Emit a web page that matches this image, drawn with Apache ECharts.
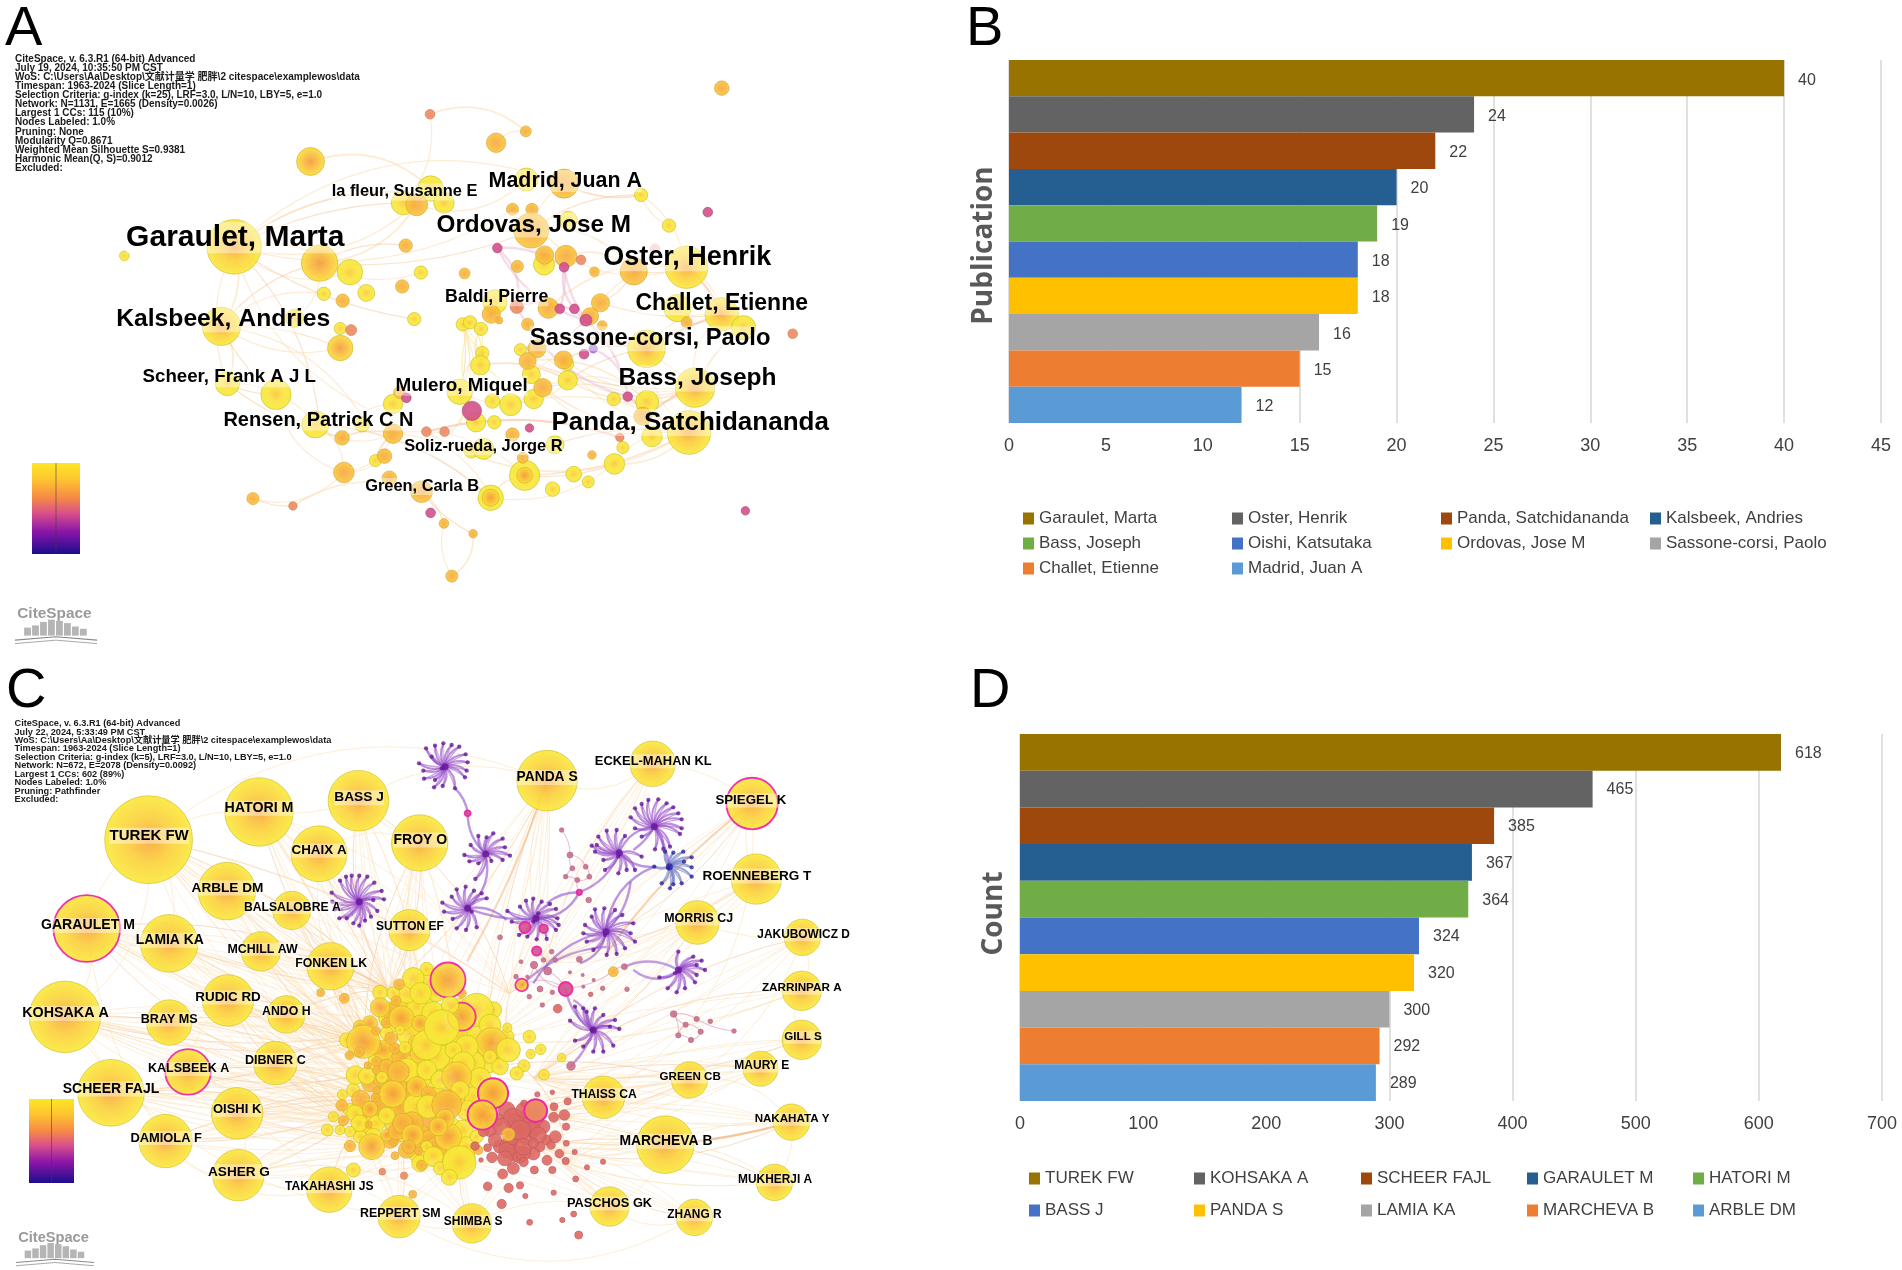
<!DOCTYPE html>
<html><head><meta charset="utf-8">
<style>html,body{margin:0;padding:0;background:#fff}#c{width:1902px;height:1270px}</style>
<script src="https://cdn.jsdelivr.net/npm/echarts@6/dist/echarts.min.js"></script>
</head><body><div id="c"></div>
<script>
// ---------- Panel B / D values ----------
const barColors=['#997300','#636363','#9E480E','#255E91','#70AD47','#4472C4','#FFC000','#A5A5A5','#ED7D31','#5B9BD5'];
const bNames=['Garaulet, Marta','Oster, Henrik','Panda, Satchidananda','Kalsbeek, Andries','Bass, Joseph','Oishi, Katsutaka','Ordovas, Jose M','Sassone-corsi, Paolo','Challet, Etienne','Madrid, Juan A'];
const bValues=[40,24,22,20,19,18,18,16,15,12];
const dNames=['TUREK FW','KOHSAKA A','SCHEER FAJL','GARAULET M','HATORI M','BASS J','PANDA S','LAMIA KA','MARCHEVA B','ARBLE DM'];
const dValues=[618,465,385,367,364,324,320,300,292,289];

// ---------- Panel text ----------
const infoA=['CiteSpace, v. 6.3.R1 (64-bit) Advanced','July 19, 2024, 10:35:50 PM CST','WoS: C:\\Users\\Aa\\Desktop\\文献计量学 肥胖\\2 citespace\\examplewos\\data','Timespan: 1963-2024 (Slice Length=1)','Selection Criteria: g-index (k=25), LRF=3.0, L/N=10, LBY=5, e=1.0','Network: N=1131, E=1665 (Density=0.0026)','Largest 1 CCs: 115 (10%)','Nodes Labeled: 1.0%','Pruning: None','Modularity Q=0.8671','Weighted Mean Silhouette S=0.9381','Harmonic Mean(Q, S)=0.9012','Excluded:'];
const infoC=['CiteSpace, v. 6.3.R1 (64-bit) Advanced','July 22, 2024, 5:33:49 PM CST','WoS: C:\\Users\\Aa\\Desktop\\文献计量学 肥胖\\2 citespace\\examplewos\\data','Timespan: 1963-2024 (Slice Length=1)','Selection Criteria: g-index (k=5), LRF=3.0, L/N=10, LBY=5, e=1.0','Network: N=672, E=2078 (Density=0.0092)','Largest 1 CCs: 602 (89%)','Nodes Labeled: 1.0%','Pruning: Pathfinder','Excluded:'];

// ---------- Panel A network, read in a 1568x1568 view of the panel: [x,y,diameter] ----------
const aLabels=[['Garaulet, Marta',388,580,30],['Kalsbeek, Andries',368,780,24.7],['Oster, Henrik',1133,628,27],['Ordovas, Jose M',880,549,24.3],['Panda, Satchidananda',1138,1033,26],['Bass, Joseph',1150,925,24.5],['Sassone-corsi, Paolo',1072,828,23.8],['Challet, Etienne',1190,741,23],['Madrid, Juan A',932,441,21.4],['Mulero, Miquel',761,943,18.9],['la fleur, Susanne E',667,468,16.4],['Baldi, Pierre',819,725,17.7],['Scheer, Frank A J L',378,922,18.7],['Rensen, Patrick C N',525,1027,20],['Soliz-rueda, Jorge R',797,1092,16.4],['Green, Carla B',696,1190,16.4]];
const aHub=[[386,605,90],[365,800,63],[1136,1060,72],[1146,950,65],[1066,855,62],[1190,770,55],[1132,655,70]];
const aYellow=[[577,667,42],[205,627,16],[694,668,22],[604,718,28],[534,720,22],[683,782,22],[486,780,30],[561,805,20],[375,940,40],[455,967,50],[597,1040,25],[520,1040,45],[648,990,32],[619,1129,20],[809,1220,42],[865,1165,50],[911,1199,24],[946,1162,26],[970,1181,20],[1013,1137,34],[1027,1097,20],[1075,1070,34],[1067,985,38],[1012,978,22],[1226,803,40],[1117,755,45],[1103,553,22],[1057,478,22],[868,440,38],[937,540,30],[710,462,42],[665,497,40],[732,497,34],[897,648,35],[816,740,40],[763,795,22],[775,790,22],[793,806,22],[795,865,22],[792,895,32],[858,857,20],[935,892,22],[876,918,30],[936,932,32],[880,978,32],[842,992,36],[812,983,24],[758,960,42],[785,1035,32],[815,1035,22],[777,1105,24],[797,1100,35],[915,1090,30]];
const aWarm=[[527,645,60],[561,853,42],[512,396,46],[809,1220,28],[865,1165,26]];
const aOrange=[[818,350,32],[867,322,18],[1190,216,24],[669,602,22],[663,702,22],[565,737,22],[766,670,18],[659,962,20],[648,1063,32],[564,1073,24],[634,1118,24],[567,1158,34],[642,1172,24],[695,1205,36],[417,1222,20],[732,1283,16],[780,1308,14],[745,1412,20],[862,1122,18],[845,1065,22],[976,1115,14],[1132,790,18],[1045,665,45],[930,450,48],[845,513,20],[877,513,20],[876,565,58],[687,502,36],[933,628,36],[898,625,30],[853,653,20],[980,666,16],[990,742,30],[904,755,34],[810,770,30],[823,785,12],[973,775,28],[993,798,16],[870,795,20],[885,855,30],[870,885,28],[929,882,30],[895,950,30],[1060,1020,30]];
const aCoral=[[709,280,16],[579,809,18],[703,1058,16],[733,1058,16],[483,1240,14],[1022,1072,14],[1307,818,16],[958,637,16],[852,752,22]];
const aPink=[[670,975,16],[710,1257,16],[873,1049,14],[1035,972,16],[1229,1252,14],[1167,520,16],[930,655,16],[820,608,16],[923,757,16],[947,757,16],[966,785,20],[963,868,16],[778,1007,32]];
const aPurple=[[978,855,14]];
const aPale=[[1080,610,16]];
const aEdges=[[386,605,660,470],[386,605,850,510],[386,605,930,450],[527,645,876,565],[386,605,365,800],[386,605,577,667],[365,800,527,645],[365,800,561,853],[365,800,375,940],[375,940,455,967],[375,940,520,1040],[520,1040,648,1063],[564,1073,648,1063],[567,1158,634,1118],[567,1158,417,1222],[417,1222,483,1240],[483,1240,695,1205],[567,1158,520,1040],[695,1205,732,1283],[732,1283,745,1412],[780,1308,745,1412],[695,1205,780,1308],[709,280,665,497],[867,322,818,350],[1057,478,930,450],[930,450,876,565],[868,440,687,502],[665,497,386,605],[687,502,527,645],[710,462,876,565],[876,565,933,628],[933,628,1132,655],[933,628,1045,665],[1045,665,1132,655],[1132,655,1190,770],[1132,655,990,742],[990,742,885,855],[1066,855,1136,1060],[1066,855,1190,770],[1066,855,936,932],[1146,950,936,932],[1146,950,1136,1060],[1136,1060,895,950],[1136,1060,842,992],[1136,1060,703,1058],[1136,1060,912,1090],[1146,950,1012,978],[1146,950,885,855],[929,882,1066,855],[929,882,1146,950],[936,932,1067,985],[870,885,1146,950],[870,885,1067,985],[876,918,1136,1060],[895,950,1067,985],[792,895,763,795],[792,895,793,806],[758,960,763,795],[763,795,758,960],[792,895,880,978],[792,895,936,932],[758,960,880,978],[1013,1137,1136,1060],[865,1165,1013,1137],[809,1220,865,1165],[648,990,564,1073],[527,645,669,602],[527,645,694,668],[386,605,604,718],[386,605,683,782],[365,800,534,720],[885,855,1146,950],[858,857,1066,855],[929,882,1136,1060],[876,918,1066,855],[990,742,1190,770],[904,755,1132,655],[1226,803,1066,855],[1045,665,990,742],[1057,478,1103,553],[709,280,867,322],[375,940,564,1073],[648,1063,865,1165],[567,1158,648,1063],[619,1129,648,1063],[386,605,375,940],[527,645,486,780],[561,853,365,800],[1136,1060,1013,1137],[386,605,710,462],[386,605,527,1040],[386,605,604,1000],[512,396,710,462],[365,800,455,967],[365,800,604,1040],[455,967,567,1158],[520,1040,809,1220],[809,1220,1013,1137],[648,1063,809,1220],[865,1165,1136,1060],[1136,1060,1226,803],[1190,770,1146,950],[876,565,1057,478],[1132,655,1057,478],[876,565,1045,665],[765,1005,792,895],[758,960,795,865],[745,1060,763,795]];
const aYellowEdges=[[763,795,758,1040],[775,790,785,1035],[793,806,758,960],[795,865,812,983],[792,895,842,992],[758,960,785,1035],[842,992,880,978],[880,978,936,932],[936,932,876,918],[763,795,795,865],[775,790,792,895],[1190,770,1226,803],[1136,1060,1075,1070]];
const aPinkEdges=[[820,608,930,655],[820,608,966,785],[820,608,852,752],[923,757,930,655],[947,757,930,655],[966,785,852,752],[966,785,1035,972],[852,752,1035,972],[978,855,1035,972],[930,655,966,785]];
const aOrangeEdges=[[1136,1060,1035,972],[1146,950,1075,1010],[703,1058,1022,1072],[1190,770,1066,855],[1132,655,1190,770]];

// ---------- Panel C network, read in a 1568x1568 view of the panel ----------
const cHubs=[['TUREK FW',245,497,145,246,485,15],['KOHSAKA A',107,938,118,108,927,14.3],['GARAULET M',143,718,110,145,708,14.1],['SCHEER FAJL',183,1127,110,183,1115,14],['HATORI M',427,428,113,427,416,14.2],['BASS J',591,400,100,592,390,13.7],['PANDA S',902,350,100,902,340,13.8],['ECKEL-MAHAN KL',1076,308,75,1077,299,12.9],['SPIEGEL K',1240,407,85,1238,397,13.3],['CHAIX A',526,532,92,526,522,13.4],['FROY O',692,505,93,693,495,14],['ARBLE DM',374,625,95,375,615,13.6],['ROENNEBERG T',1247,595,83,1248,585,13.5],['BALSALOBRE A',481,673,63,482,663,12.2],['SUTTON EF',675,722,68,676,712,12],['LAMIA KA',279,755,95,280,745,13.9],['MCHILL AW',430,775,65,433,767,12.4],['FONKEN LK',545,812,78,546,802,12.3],['MORRIS CJ',1150,703,72,1152,692,12.4],['JAKUBOWICZ D',1323,740,60,1325,731,11.9],['RUDIC RD',376,897,85,376,887,13.4],['ANDO H',472,932,62,472,922,12.3],['BRAY MS',279,952,75,279,942,12.6],['ZARRINPAR A',1322,873,65,1322,864,11.7],['GILL S',1322,995,65,1324,986,11.6],['KALSBEEK A',310,1075,75,311,1065,12.5],['DIBNER C',454,1053,72,454,1043,12.6],['MAURY E',1254,1067,58,1256,1058,12],['GREEN CB',1137,1095,60,1138,1085,11.6],['THAISS CA',995,1138,70,996,1128,12.1],['OISHI K',391,1178,85,391,1167,13],['DAMIOLA F',273,1247,88,274,1237,12.9],['NAKAHATA Y',1305,1200,60,1306,1190,11.6],['MARCHEVA B',1097,1256,95,1098,1245,13.9],['ASHER G',393,1332,85,394,1321,13.6],['MUKHERJI A',1277,1350,60,1278,1341,11.9],['TAKAHASHI JS',543,1368,75,543,1358,12.1],['REPPERT SM',658,1435,70,660,1424,12.4],['SHIMBA S',778,1452,65,780,1444,12],['PASCHOS GK',1005,1410,65,1005,1400,12.8],['ZHANG R',1145,1437,60,1145,1428,11.9]];
const cHubRingNames=['GARAULET M','SPIEGEL K','KALSBEEK A'];
const cAnchors=[[640,870],[700,950],[600,1000],[660,1060],[750,1080],[620,1140],[700,1160],[800,1000],[590,1200],[660,1250],[760,1300],[850,1180],[880,1260],[930,1300],[880,1090],[840,880],[900,800]];
const cHubLinks=[[0,1,2,3,5,8,15],[2,3,5,6,8,9,1],[0,2,3,5,8,1],[3,5,6,8,9,10,2],[0,1,2,3,15],[0,1,3,15],[0,1,4,7,15,16],[16,15,7],[16,7,14],[0,1,2],[0,1,4,2],[0,1,2,3,5],[16,14,7],[0,2,3],[0,1,3],[0,2,3,5,8],[0,2,5],[2,3,5,1],[14,7,16],[14,11],[2,3,5,8,6],[2,3,5,0],[2,5,8],[14,7],[14,11],[3,5,8,6],[2,3,5,8],[14,11,13],[11,12,14,4],[11,14,4,6],[5,6,8,9,3],[5,8,9,6],[12,11,14],[11,12,13,6],[8,9,10,5],[12,13],[8,9,10],[9,10,8],[10,9,12],[12,13,10],[13,12]];
const cHubPairs=[[0,4],[0,2],[0,1],[0,11],[0,15],[1,2],[1,3],[2,15],[3,31],[4,5],[5,6],[6,7],[7,8],[8,12],[12,18],[18,19],[19,23],[23,24],[24,27],[27,28],[28,29],[32,33],[33,39],[39,40],[38,39],[37,38],[36,37],[34,36],[30,34],[31,34],[20,22],[20,25],[25,30],[26,30],[15,16],[16,17],[17,21],[11,13],[9,10],[10,14],[4,9],[32,28],[19,28],[1,37],[0,6],[2,31],[34,38],[37,40],[33,35],[35,32],[8,29],[5,10],[3,36],[31,36]];

// central cluster, read in a crop at (320,950) 3x
const cClusterBase=[[300,200,120,'y'],[420,300,130,'y'],[200,330,110,'y'],[300,420,120,'y'],[250,520,110,'w'],[380,560,120,'y'],[150,500,90,'y'],[450,420,100,'y'],[330,100,90,'y'],[220,200,90,'y'],[320,330,110,'y'],[500,330,80,'y'],[200,450,90,'y'],[300,600,80,'y'],[420,620,90,'y']];
const cClusterFill=[[250,170,70,'y'],[220,190,60,'o'],[290,170,60,'y'],[340,190,70,'y'],[270,250,80,'y'],[340,260,90,'y'],[420,260,80,'y'],[480,260,80,'y'],[250,320,70,'o'],[190,300,60,'w'],[160,290,50,'o'],[380,330,70,'y'],[350,320,80,'y'],[460,340,70,'y'],[540,350,50,'y'],[280,350,70,'y'],[300,380,70,'y'],[260,420,70,'o'],[240,470,60,'o'],[180,470,60,'o'],[290,470,80,'y'],[330,520,80,'o'],[300,560,70,'o'],[170,520,50,'y'],[130,480,50,'o'],[90,480,40,'y'],[210,570,50,'o'],[260,600,50,'o'],[330,570,60,'o'],[430,540,60,'y'],[440,590,60,'y'],[380,610,70,'y'],[350,590,60,'o'],[460,440,60,'y'],[440,480,60,'y'],[100,420,40,'y'],[130,540,50,'y'],[160,560,50,'y'],[120,560,40,'y'],[200,400,50,'o'],[150,400,50,'o'],[180,390,40,'o'],[230,410,60,'o'],[260,360,70,'y'],[420,170,50,'y'],[350,130,50,'y'],[260,130,60,'y'],[220,130,40,'y'],[150,220,46,'w'],[120,230,40,'w'],[80,270,44,'y'],[200,250,40,'y'],[300,310,60,'w'],[520,180,50,'y'],[560,260,44,'y'],[400,440,70,'w'],[350,440,60,'y'],[300,640,50,'y'],[400,660,50,'y'],[470,560,40,'y'],[60,540,30,'y'],[40,500,30,'y']];
const cCluster=[[2,128,24,'o'],[73,145,30,'o'],[320,57,40,'y'],[280,85,65,'y'],[237,103,32,'o'],[302,130,65,'y'],[180,128,44,'y'],[180,172,58,'w'],[228,152,30,'o'],[200,218,32,'o'],[245,205,75,'w'],[240,240,28,'y'],[300,220,50,'w'],[425,130,28,'o'],[470,180,100,'y'],[510,225,65,'y'],[562,233,28,'y'],[515,280,95,'w'],[565,300,72,'y'],[628,260,38,'y'],[662,298,32,'y'],[632,312,28,'y'],[725,323,26,'y'],[612,347,36,'y'],[590,370,40,'y'],[672,374,32,'y'],[130,275,100,'w'],[168,243,26,'o'],[118,305,30,'o'],[88,316,26,'o'],[214,265,38,'o'],[225,295,32,'o'],[290,280,50,'w'],[320,285,90,'y'],[440,290,70,'y'],[510,320,40,'y'],[400,300,50,'y'],[255,293,36,'y'],[106,375,56,'y'],[140,378,50,'y'],[170,335,30,'o'],[143,346,22,'o'],[170,360,26,'o'],[200,350,45,'o'],[235,365,65,'o'],[186,382,35,'y'],[320,360,60,'y'],[430,340,70,'y'],[360,390,55,'y'],[480,385,65,'y'],[410,380,90,'w'],[290,410,60,'w'],[420,420,55,'y'],[218,432,80,'w'],[326,432,45,'o'],[170,422,22,'o'],[166,443,26,'o'],[122,448,55,'o'],[67,434,30,'y'],[65,466,35,'o'],[105,490,50,'y'],[150,477,46,'w'],[200,497,50,'y'],[70,512,30,'o'],[118,520,50,'y'],[22,540,36,'y'],[90,545,32,'y'],[90,588,34,'o'],[146,524,22,'o'],[200,555,36,'w'],[155,590,78,'w'],[222,577,24,'o'],[230,545,50,'o'],[325,470,70,'y'],[380,465,90,'o'],[275,520,70,'o'],[248,520,60,'o'],[385,560,80,'w'],[278,555,65,'w'],[375,505,55,'w'],[355,530,55,'w'],[320,590,35,'y'],[225,617,24,'o'],[267,590,40,'o'],[295,603,24,'o'],[305,646,30,'o'],[340,620,60,'y'],[360,655,40,'y'],[418,637,100,'y'],[388,682,48,'y'],[475,600,28,'o'],[187,665,20,'r'],[252,677,22,'r'],[278,733,24,'o'],[100,660,42,'y']];
const cClusterFront=[[390,165,52,'y'],[365,232,105,'y']];
const cRinged8=[[384,90,105,'w'],[425,200,84,'w'],[519,430,90,'w'],[487,495,88,'w'],[647,482,68,'r'],[605,105,38,'w'],[737,117,42,'m'],[650,3,28,'m']];
const cRedFill=[[560,480,50],[590,520,60],[630,530,60],[570,580,50],[620,560,50],[530,510,40],[510,540,40],[585,610,50],[640,610,40],[540,590,40],[600,620,40],[660,590,30],[670,530,40],[680,570,30],[510,510,30],[620,500,40],[560,600,46],[610,610,44],[580,560,50],[640,540,44]];
const cRed=[[580,505,60],[610,480,45],[545,530,50],[600,540,60],[655,555,48],[610,590,50],[525,570,40],[555,625,45],[655,510,30],[640,580,30],[490,545,30],[465,588,26],[503,593,24],[516,622,32],[611,636,28],[580,655,36],[548,672,30],[643,660,24],[681,631,30],[697,660,22],[718,611,26],[737,633,22],[693,585,26],[706,560,36],[738,530,22],[733,495,32],[701,502,30],[702,470,24],[743,454,22],[652,433,16],[697,427,14],[739,580,18],[764,606,16],[801,652,16],[849,635,16],[767,687,18],[701,728,16],[616,738,16],[545,762,28],[600,706,22],[566,714,28],[503,709,26],[629,817,18],[727,810,16],[761,792,18],[776,855,24],[483,630,14],[612,460,20],[713,176,26],[812,133,14]];
const cRedWarm=[[565,553,40]];
const cRose8=[[695,5,14],[603,35,12],[642,45,22],[670,30,14],[706,30,14],[683,63,24],[778,28,18],[913,50,18],[588,80,14],[622,80,10],[660,117,18],[697,127,14],[628,140,14],[667,165,14],[790,110,10],[750,67,10],[788,75,10],[821,90,10],[848,115,14],[921,118,14],[753,348,26],[1061,192,20],[1130,207,16],[1097,224,16],[1171,214,14],[1142,245,16],[1075,256,16],[1113,270,16],[1242,243,14]];
const cOrangeRing8=[[880,65,30]];
const cRose7=[[725,300,14],[750,375,18],[757,415,15],[797,410,15],[737,440,14],[772,450,15],[808,440,15],[806,510,17],[540,622,15]];
const cRinged7=[[615,592,34],[671,596,26],[443,250,18],[778,487,16]];
// pale links among the small rose nodes
const cRoseLinks8=[[1061,192,1130,207],[1061,192,1097,224],[1097,224,1142,245],[1130,207,1242,243],[1075,256,1097,224],[1113,270,1142,245],[1061,192,1075,256],[1113,270,1075,256],[605,105,737,117],[737,117,880,65],[880,65,913,50],[642,45,737,117],[683,63,737,117],[605,105,642,45],[650,3,683,63]];
const cRoseLinks7=[[725,300,750,375],[750,375,757,415],[750,375,797,410],[757,415,737,440],[797,410,808,440],[772,450,808,440],[737,440,772,450],[772,450,778,487]];
// purple fans, read in crops: [centre, leaves]
const fans7=[
 [[375,110],[[370,40],[345,47],[318,55],[297,100],[310,122],[312,146],[342,172],[368,168],[405,175],[435,142],[440,122],[443,97],[437,73],[418,50],[395,45],[335,80],[345,150],[365,115]]],
 [[497,372],[[475,318],[500,322],[520,310],[548,326],[555,352],[570,377],[548,390],[514,393],[475,400],[448,394],[433,375],[452,345],[466,447]]],
 [[118,515],[[95,437],[118,437],[142,440],[163,458],[185,483],[192,508],[172,543],[153,560],[135,572],[118,587],[100,580],[80,565],[58,565],[45,538],[37,515],[35,488],[60,452],[78,440],[160,510]]],
 [[443,535],[[410,478],[437,470],[462,482],[485,490],[500,505],[367,518],[372,545],[398,567],[410,595],[438,600],[470,592],[395,500],[455,545]]],
 [[648,565],[[618,512],[640,506],[665,515],[690,522],[708,537],[712,565],[716,585],[708,600],[680,627],[650,628],[622,620],[597,615],[575,575],[562,543],[600,530],[640,575],[655,550]]],
 [[858,605],[[825,538],[853,535],[885,540],[907,555],[940,580],[932,610],[945,635],[915,655],[890,672],[860,675],[820,660],[800,635],[790,610],[795,585],[815,560],[855,615]]],
 [[898,368],[[835,320],[860,302],[890,300],[915,318],[830,345],[815,347],[825,365],[850,390],[855,420],[895,430],[920,420],[945,420],[965,380],[895,380]]],
 [[1003,290],[[985,210],[1015,208],[1040,220],[1060,232],[1075,250],[1085,268],[1085,295],[1080,312],[1050,350],[1030,357],[1005,358],[965,320],[945,295],[932,262],[945,235],[965,222]]]
];
const fanBlue7=[[1048,410],[[1003,410],[1035,365],[1060,368],[1090,365],[1115,382],[1092,395],[1115,412],[1115,440],[1085,460],[1060,463],[1050,475],[1025,460],[1045,415]]];
const fans8=[
 [[1075,60],[[1075,5],[1120,20],[1145,32],[1130,45],[1155,60],[1130,75],[1125,97],[1095,115],[1070,127],[1043,115],[1018,82],[1065,70]]],
 [[820,240],[[790,175],[800,185],[825,175],[850,195],[885,210],[870,230],[898,237],[880,287],[850,305],[820,305],[790,290],[765,272],[750,212],[765,170],[815,240]]]
];
const cBridges7=[[405,175,443,250],[443,250,497,372],[497,372,443,535],[443,535,648,565],[443,535,560,570],[648,565,778,487],[680,520,778,487],[778,487,898,368],[898,368,1003,290],[940,360,1003,290],[1003,410,898,368],[1003,410,858,605],[932,455,858,605],[858,605,640,760],[858,605,780,700],[1048,410,1003,290]];
const cBridges8=[[605,105,860,-10],[737,117,820,240],[760,150,810,240],[753,348,820,240],[913,50,1075,60],[940,60,1060,75]];

// colour bands for nodes
const S={
 y:{c:['#f9c83c','#fbe33a','#f5ea36'],b:'#c4b51a'},
 H:{c:['#f8a63c','#fbcf3a','#fae93a'],b:'#c9b21a'},
 w:{c:['#f59a3c','#f9bc3a','#fbdf3a'],b:'#c9a51a'},
 o:{c:['#f7a83f','#f8b53c','#fac83a'],b:'#d0982a'},
 r:{c:['#e98563','#ec8a60','#ee9160'],b:'#cf7050'},
 R:{c:['#db6660','#dc6862','#de6c66'],b:'#b85056'},
 m:{c:['#d45090','#d3508a','#d0508a'],b:'#a83c70'},
 k:{c:['#c86a8c','#ca6f8c','#cc7590'],b:'#a85a76'},
 p:{c:['#a868d8','#a868d8','#a868d8'],b:'#8850c0'},
 l:{c:['#f8c0c0','#f8c4c4','#f8c8c8'],b:'#e8b0b0'}
};
const F={a:p=>[p[0]*.6065,p[1]*.408],c:p=>[p[0]*.6065,640+p[1]*.4018],z7:p=>[320+p[0]/3,730+p[1]/3],z8:p=>[320+p[0]/3,950+p[1]/3]};
const K={a:.6065,c:.6065,z7:1/3,z8:1/3};
function fill(k){const s=S[k];return {type:'radial',x:.5,y:.5,r:.5,colorStops:[{offset:0,color:s.c[0]},{offset:.5,color:s.c[1]},{offset:1,color:s.c[2]}]};}
function pt(fr,n,k,ring){const q=F[fr](n);const st={color:fill(k||n[3]||'y'),borderColor:ring?'#ee1fa8':S[k||n[3]||'y'].b,borderWidth:ring?1.8:.6,opacity:.9};return {value:q,symbolSize:n[2]*K[fr],itemStyle:st};}
function nodeSeries(items){return {type:'scatter',xAxisIndex:0,yAxisIndex:0,silent:true,animation:false,symbol:'circle',data:items,z:3,clip:false};}
function edgeSeries(items,z){return {type:'lines',coordinateSystem:'cartesian2d',xAxisIndex:0,yAxisIndex:0,silent:true,animation:false,polyline:false,data:items,z:z||2,lineStyle:{width:1,opacity:.5}};}
function edge(a,b,color,w,op,cv){return {coords:[a,b],lineStyle:{color,width:w,opacity:op,curveness:cv}};}
function labelSeries(list,fr,xi,yi,si){return {type:'scatter',xAxisIndex:0,yAxisIndex:0,silent:true,animation:false,symbolSize:1,z:6,itemStyle:{opacity:0},
 data:list.map(l=>({value:F[fr]([l[xi],l[yi]]),label:{show:true,position:'inside',opacity:1,offset:[0,1],formatter:l[0],fontSize:l[si],fontWeight:'bold',fontFamily:'Liberation Sans, Arial, sans-serif',color:'#000',backgroundColor:'rgba(255,255,255,0.42)',padding:[1,0,0,0]}}))};}
const curv=[.18,-.22,.3,-.12,.25,-.3];

// --- assemble panel A
const aEdgeData=[];
aEdges.forEach((e,i)=>aEdgeData.push(edge(F.a([e[0],e[1]]),F.a([e[2],e[3]]),i%3==0?'#f9cfa6':'#fbe0b8',i%4==0?1.8:1.2,.6,curv[i%6])));
aYellowEdges.forEach((e,i)=>aEdgeData.push(edge(F.a([e[0],e[1]]),F.a([e[2],e[3]]),'#f7efa0',1.4,.7,curv[i%6])));
aPinkEdges.forEach((e,i)=>aEdgeData.push(edge(F.a([e[0],e[1]]),F.a([e[2],e[3]]),'#eab2cc',2.4,.45,curv[i%6])));
aOrangeEdges.forEach((e,i)=>aEdgeData.push(edge(F.a([e[0],e[1]]),F.a([e[2],e[3]]),'#f6b596',2.2,.55,curv[i%6]*.5)));
const aNodes=[...aHub.map(n=>pt('a',n,'H')),...aYellow.map(n=>pt('a',n,'y')),...aWarm.map(n=>pt('a',n,'w')),...aOrange.map(n=>pt('a',n,'o')),...aCoral.map(n=>pt('a',n,'r')),...aPink.map(n=>pt('a',n,'m')),...aPurple.map(n=>pt('a',n,'p')),...aPale.map(n=>pt('a',n,'l'))];

// --- assemble panel C
const cEdgeData=[];
cHubs.forEach((h,i)=>{(cHubLinks[i]||[]).forEach((t,j)=>{
 cEdgeData.push(edge(F.c([h[1],h[2]]),F.c(cAnchors[t]),j%3==0?'#f8c79c':'#fbdcb0',j%3==0?1:.8,.6,curv[(i+j)%6]*.6));
 cEdgeData.push(edge(F.c([h[1],h[2]]),F.c(cAnchors[t]),'#fbe4bc',.8,.6,curv[(i+j+2)%6]*.35));
 cEdgeData.push(edge(F.c([h[1],h[2]]),F.c(cAnchors[t]),'#fad9ab',.8,.5,-curv[(i+j+4)%6]*.15));
});});
cHubPairs.forEach((p,i)=>{const a=cHubs[p[0]],b=cHubs[p[1]];cEdgeData.push(edge(F.c([a[1],a[2]]),F.c([b[1],b[2]]),'#fce4b8',.9,.7,curv[i%6]));});
cAnchors.forEach((a,i)=>{if(i<cAnchors.length-1)cEdgeData.push(edge(F.c(a),F.c(cAnchors[i+1]),'#f8c79c',1.2,.5,curv[i%6]));});
cEdgeData.push(edge(F.c([1305,1200]),F.c([1097,1256]),'#f2a060',2.4,.6,.05));
cEdgeData.push(edge(F.c([1240,407]),F.c([1000,780]),'#f3b27a',2.2,.55,-.08));
cEdgeData.push(edge(F.c([902,350]),F.c([770,800]),'#f3b27a',2.2,.5,.05));
cRoseLinks8.forEach((b,i)=>cEdgeData.push(edge(F.z8([b[0],b[1]]),F.z8([b[2],b[3]]),'#e0a8c0',1.1,.7,curv[i%6])));
cRoseLinks7.forEach((b,i)=>cEdgeData.push(edge(F.z7([b[0],b[1]]),F.z7([b[2],b[3]]),'#e0a8c0',1.1,.7,curv[i%6])));
const fanEdges=[];
function addFan(fr,f,color,width,op){const c=F[fr](f[0]);f[1].forEach((l,i)=>{fanEdges.push(edge(c,F[fr](l),color,width,op,.28));fanEdges.push(edge(c,F[fr](l),color,width*.7,op*.8,.1));});}
fans7.forEach(f=>addFan('z7',f,'#8f3fc4',2,.6));
addFan('z7',fanBlue7,'#6f80cc',2,.7);
fans8.forEach(f=>addFan('z8',f,'#8f3fc4',2,.6));
cBridges7.forEach((b,i)=>fanEdges.push(edge(F.z7([b[0],b[1]]),F.z7([b[2],b[3]]),'#9050c8',2.4,.6,curv[i%6])));
cBridges8.forEach((b,i)=>fanEdges.push(edge(F.z8([b[0],b[1]]),F.z8([b[2],b[3]]),'#9050c8',2.4,.55,curv[i%6])));
function fanDots(fr,f,col,size){const out=[];out.push({value:F[fr](f[0]),symbolSize:7,itemStyle:{color:col}});f[1].forEach(l=>out.push({value:F[fr](l),symbolSize:size,itemStyle:{color:col}}));return out;}
const fanNodes=[...fans7.flatMap(f=>fanDots('z7',f,'#651898',4.3)),...fanDots('z7',fanBlue7,'#27249c',4.3),...fans8.flatMap(f=>fanDots('z8',f,'#651898',4.3))];
const cHubNodes=cHubs.map(h=>pt('c',[h[1],h[2],h[3]],'H',cHubRingNames.includes(h[0])));
const cBack=[...cClusterBase,...cClusterFill,...cCluster].map(n=>pt('z8',n));
const cRingsN=cRinged8.map(n=>pt('z8',n,n[3],true));
const cFront=cClusterFront.map(n=>pt('z8',n));
const cReds=[...cRedFill.map(n=>pt('z8',n,'R')),...cRed.map(n=>pt('z8',n,'R')),...cRedWarm.map(n=>pt('z8',n,'o'))];
const cRoses=[...cRose8.map(n=>pt('z8',n,'k')),...cRose7.map(n=>pt('z7',n,'k')),...cOrangeRing8.map(n=>pt('z8',n,'o'))];
const cSmallRings=cRinged7.map(n=>pt('z7',n,'m',true));

// --- bar panels
const NARROW='"Liberation Sans Narrow","Liberation Sans",sans-serif';
function barSeries(names,vals,xi,yi,st,ly){return names.map((nm,i)=>({name:nm,type:'bar',xAxisIndex:xi,yAxisIndex:yi,stack:st,barCategoryGap:'0%',silent:true,animation:false,z:4,
 data:vals.map((v,j)=>j===i?v:null),itemStyle:{color:barColors[i]},
 label:{show:true,position:'right',distance:14,offset:[0,ly],color:'#404040',fontFamily:NARROW,fontSize:16,formatter:p=>p.value}}));}
function valAxis(grid,max,interval){return {type:'value',gridIndex:grid,min:0,max,interval,axisLine:{show:false},axisTick:{show:false},axisLabel:{color:'#404040',fontFamily:NARROW,fontSize:18,margin:14},splitLine:{show:true,lineStyle:{color:'#d6d6d6',width:1.5}}};}
function catAxis(grid,names,title,gap,pad){return {type:'category',gridIndex:grid,inverse:true,data:names,axisLine:{show:false},axisTick:{show:false},axisLabel:{show:false},splitLine:{show:false},name:title,nameLocation:'middle',nameRotate:90,nameGap:gap,nameTextStyle:{fontFamily:'Open Sans, sans-serif',fontWeight:'bold',fontSize:28,color:'#595959',padding:pad}};}
const bCols=[1023,1232,1441,1650],bRows=[510,535,560];
const dCols=[1029,1194,1361,1527,1693],dRows=[1170,1202];
function legendOf(names,cols,rows,perRow){return names.map((nm,i)=>({show:true,data:[nm],left:cols[i%perRow],top:rows[Math.floor(i/perRow)],itemWidth:11,itemHeight:12,itemGap:6,padding:0,selectedMode:false,icon:'rect',textStyle:{fontFamily:NARROW,fontSize:17,color:'#404040',padding:[0,0,0,0]},itemStyle:{borderWidth:0}}));}

// --- decorations
function letter(t,x,y){return {type:'text',left:x,top:y,silent:true,style:{text:t,fontFamily:'Liberation Sans, Arial, sans-serif',fontSize:56,fill:'#000'}};}
function info(lines,x,y,size,lh){return {type:'text',left:x,top:y,silent:true,style:{text:lines.join('\n'),fontFamily:'Liberation Sans, "Noto Sans CJK SC", sans-serif',fontWeight:'bold',fontSize:size,lineHeight:lh,fill:'#1a1a1a'}};}
const cbStops=[{offset:0,color:'#fde725'},{offset:.18,color:'#fdc52f'},{offset:.38,color:'#f78a46'},{offset:.55,color:'#d9508a'},{offset:.75,color:'#8d16a8'},{offset:1,color:'#1b0c8c'}];
function cbar(x,y,w,h){return [{type:'rect',left:x,top:y,silent:true,shape:{width:w,height:h},style:{fill:{type:'linear',x:0,y:0,x2:0,y2:1,colorStops:cbStops}}},{type:'rect',left:x+w/2-.5,top:y,silent:true,shape:{width:1,height:h},style:{fill:'rgba(60,60,60,.55)'}}];}
function logo(x,y,w){const g=[];const s=w/72;
 g.push({type:'text',left:x+2*s,top:y,silent:true,style:{text:'CiteSpace',fontFamily:'Liberation Sans, sans-serif',fontWeight:'bold',fontSize:13.5*s,fill:'#9a9a9a'}});
 [[8,7],[15,9],[22,12],[29,14],[36,13],[43,11],[50,8],[57,6]].forEach(b=>g.push({type:'rect',left:x+b[0]*s,top:y+31*s-b[1]*s-5*s,silent:true,shape:{width:6*s,height:b[1]*s},style:{fill:'#b5b5b5'}}));
 g.push({type:'polyline',silent:true,shape:{points:[[x,y+30*s],[x+36*s,y+27*s],[x+72*s,y+30*s]]},style:{stroke:'#8a8a8a',lineWidth:1.2,fill:null}});
 g.push({type:'polyline',silent:true,shape:{points:[[x,y+33*s],[x+36*s,y+30*s],[x+72*s,y+33*s]]},style:{stroke:'#a8a8a8',lineWidth:1,fill:null}});
 return g;}

const option={
 backgroundColor:'#fff',animation:false,
 grid:[{left:0,top:0,width:1902,height:1270},{left:1009,top:60,width:872,height:363},{left:1020,top:734,width:862,height:367}],
 xAxis:[{type:'value',gridIndex:0,min:0,max:1902,show:false},valAxis(1,45,5),valAxis(2,700,100)],
 yAxis:[{type:'value',gridIndex:0,min:0,max:1270,inverse:true,show:false},catAxis(1,bNames,'Publication',11,[0,8,0,0]),catAxis(2,dNames,'Count',12,[0,0,0,8])],
 legend:[...legendOf(bNames,bCols,bRows,4),...legendOf(dNames,dCols,dRows,5)],
 graphic:[letter('A',5,2),letter('B',966,2),letter('C',6,664),letter('D',970,664),info(infoA,15,54,10,9.1),info(infoC,14.5,719,9.2,8.45),...cbar(32,463,48,91),...cbar(29,1099,45,84),...logo(15,606,82),...logo(16,1230,78)],
 series:[
  edgeSeries(aEdgeData),nodeSeries(aNodes),labelSeries(aLabels,'a',1,2,3),
  edgeSeries(cEdgeData),edgeSeries(fanEdges,2),
  nodeSeries(cHubNodes),nodeSeries(cBack),nodeSeries(cRingsN),nodeSeries(cFront),nodeSeries(cReds),nodeSeries([...cRingsN.slice(2,5)]),nodeSeries(cRoses),nodeSeries(cSmallRings),nodeSeries(fanNodes),
  labelSeries(cHubs,'c',4,5,6),
  ...barSeries(bNames,bValues,1,1,'b',2),...barSeries(dNames,dValues,2,2,'d',1)
 ]
};
echarts.init(document.getElementById('c'),null,{renderer:'canvas'}).setOption(option);
</script></body></html>
